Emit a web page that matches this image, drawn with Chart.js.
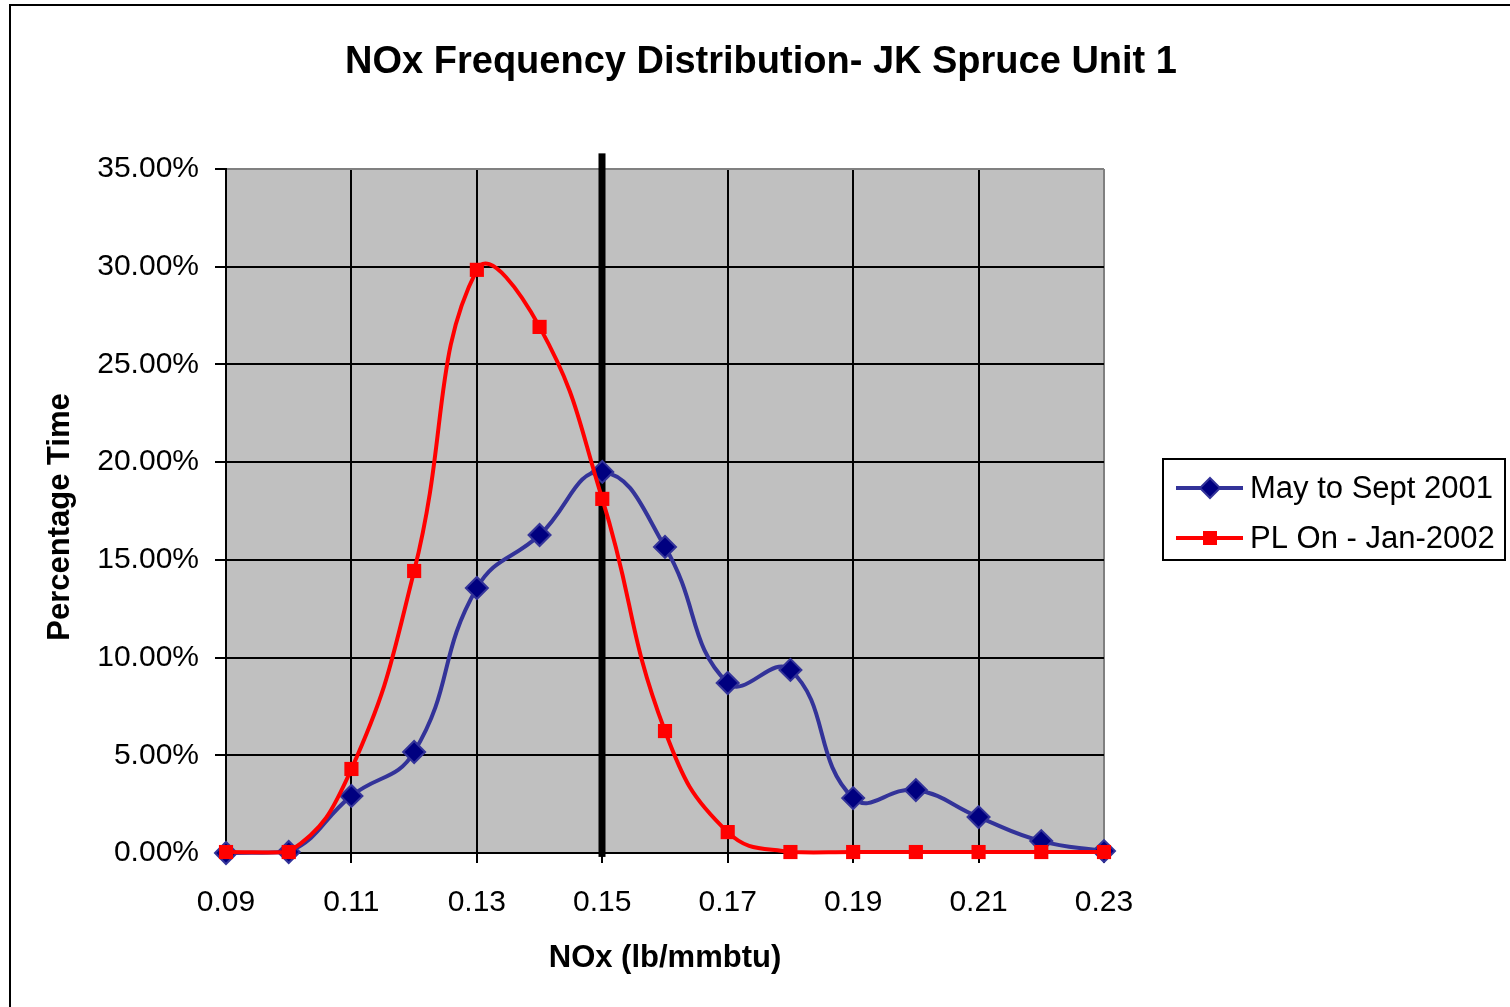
<!DOCTYPE html>
<html>
<head>
<meta charset="utf-8">
<script src="https://cdn.jsdelivr.net/npm/chart.js@4/dist/chart.umd.min.js"></script>
<style>
  html, body { margin: 0; padding: 0; background: #ffffff; }
  #wrap { position: relative; width: 1510px; height: 1007px; }
</style>
</head>
<body>
<div id="wrap"><canvas id="c" width="1510" height="1007"></canvas></div>
<script>
// ---- data ----
const chartTitle = 'NOx Frequency Distribution- JK Spruce Unit 1';
const xAxisTitle = 'NOx (lb/mmbtu)';
const yAxisTitle = 'Percentage Time';
const noxValues = [0.09, 0.10, 0.11, 0.12, 0.13, 0.14, 0.15, 0.16, 0.17, 0.18, 0.19, 0.20, 0.21, 0.22, 0.23];
const seriesNames = ['May to Sept 2001', 'PL On - Jan-2002'];
const maySept2001 = [0.0, 0.05, 2.92, 5.17, 13.56, 16.27, 19.5, 15.66, 8.7, 9.37, 2.81, 3.22, 1.84, 0.61, 0.1];
const plOnJan2002 = [0.05, 0.05, 4.3, 14.43, 29.84, 26.92, 18.12, 6.24, 1.07, 0.05, 0.05, 0.05, 0.05, 0.05, 0.05];
const xTickValues = [0.09, 0.11, 0.13, 0.15, 0.17, 0.19, 0.21, 0.23];
const yTickValues = [0, 5, 10, 15, 20, 25, 30, 35];
const refLineX = 0.15;
const refLineTop = 35.8;
const refLineBottom = -0.2;

const FONT = 'Arial, "Liberation Sans", Helvetica, sans-serif';
const blueLine = '#333399';
const blueFill = '#000080';
const red = '#FF0000';

const toPoints = arr => arr.map((v, i) => ({ x: noxValues[i], y: v }));

const decorPlugin = {
  id: 'decor',
  beforeDraw(chart) {
    const { ctx, chartArea: a } = chart;
    ctx.save();
    ctx.fillStyle = '#ffffff';
    ctx.fillRect(0, 0, chart.width, chart.height);
    ctx.fillStyle = '#C0C0C0';
    ctx.fillRect(a.left, a.top, a.right - a.left, a.bottom - a.top);
    ctx.restore();
  },
  beforeDatasetsDraw(chart) {
    const { ctx } = chart;
    const xs = chart.scales.x, ys = chart.scales.y;
    const px = xs.getPixelForValue(refLineX);
    ctx.save();
    ctx.fillStyle = '#000000';
    const t = ys.getPixelForValue(refLineTop);
    const b = ys.getPixelForValue(refLineBottom);
    ctx.fillRect(Math.round(px) - 3.5, t, 7, b - t);
    ctx.restore();
  },
  afterDraw(chart) {
    const { ctx, chartArea: a } = chart;
    ctx.save();
    // outer chart border
    ctx.strokeStyle = '#000000';
    ctx.lineWidth = 2;
    ctx.strokeRect(10, 5, chart.width + 10, chart.height + 10);

    // title
    ctx.fillStyle = '#000000';
    ctx.textAlign = 'center';
    ctx.textBaseline = 'middle';
    ctx.font = 'bold 38px ' + FONT;
    ctx.fillText(chartTitle, 761, 63);

    // axis titles
    ctx.font = 'bold 31px ' + FONT;
    ctx.fillText(xAxisTitle, (a.left + a.right) / 2, 958);
    ctx.save();
    ctx.translate(60, (a.top + a.bottom) / 2 + 6);
    ctx.rotate(-Math.PI / 2);
    ctx.fillText(yAxisTitle, 0, 0);
    ctx.restore();

    // legend
    const lx = 1163, ly = 459, lw = 342, lh = 101;
    ctx.fillStyle = '#ffffff';
    ctx.fillRect(lx, ly, lw, lh);
    ctx.strokeStyle = '#000000';
    ctx.lineWidth = 2;
    ctx.strokeRect(lx, ly, lw, lh);
    const rows = [
      { name: seriesNames[0], color: blueLine, fill: blueFill, style: 'rectRot', y: 488 },
      { name: seriesNames[1], color: red, fill: red, style: 'rect', y: 538 }
    ];
    rows.forEach(r => {
      ctx.strokeStyle = r.color;
      ctx.lineWidth = 4;
      ctx.beginPath();
      ctx.moveTo(1176, r.y);
      ctx.lineTo(1243, r.y);
      ctx.stroke();
      ctx.fillStyle = r.fill;
      ctx.strokeStyle = r.color;
      ctx.lineWidth = 2;
      if (r.style === 'rectRot') {
        ctx.beginPath();
        ctx.moveTo(1210, r.y - 10);
        ctx.lineTo(1220, r.y);
        ctx.lineTo(1210, r.y + 10);
        ctx.lineTo(1200, r.y);
        ctx.closePath();
        ctx.fill();
        ctx.stroke();
      } else {
        ctx.fillRect(1203, r.y - 7, 14, 14);
      }
      ctx.fillStyle = '#000000';
      ctx.textAlign = 'left';
      ctx.textBaseline = 'middle';
      ctx.font = '31px ' + FONT;
      ctx.fillText(r.name, 1250, r.y + 1);
    });
    ctx.restore();
  }
};

new Chart(document.getElementById('c'), {
  type: 'line',
  data: {
    datasets: [
      {
        label: seriesNames[0],
        data: toPoints(maySept2001),
        borderColor: blueLine,
        backgroundColor: blueFill,
        borderWidth: 4,
        pointStyle: 'rectRot',
        pointRadius: 11,
        pointBorderWidth: 2,
        pointBorderColor: blueLine,
        pointBackgroundColor: blueFill,
        tension: 0.45,
        order: 1
      },
      {
        label: seriesNames[1],
        data: toPoints(plOnJan2002),
        borderColor: red,
        backgroundColor: red,
        borderWidth: 4,
        pointStyle: 'rect',
        pointRadius: 10,
        pointBorderWidth: 0,
        pointBackgroundColor: red,
        tension: 0.45,
        order: 0
      }
    ]
  },
  options: {
    responsive: false,
    animation: false,
    devicePixelRatio: 1,
    clip: false,
    layout: { padding: { left: 0, top: 169, right: 406, bottom: 0 } },
    plugins: {
      legend: { display: false },
      title: { display: false },
      tooltip: { enabled: false }
    },
    scales: {
      x: {
        type: 'linear',
        min: 0.09,
        max: 0.23,
        afterBuildTicks: s => { s.ticks = xTickValues.map(v => ({ value: v })); },
        afterFit: s => { s.height = 154; },
        grid: {
          color: c => (c.tick && c.tick.value === 0.23 ? '#808080' : '#000000'),
          tickColor: '#000000',
          lineWidth: 2,
          tickLength: 10
        },
        border: { color: '#000000', width: 2 },
        ticks: {
          color: '#000000',
          font: { family: FONT, size: 30 },
          padding: 22,
          maxRotation: 0,
          callback: v => Number(v).toFixed(2)
        }
      },
      y: {
        type: 'linear',
        min: 0,
        max: 35,
        afterBuildTicks: s => { s.ticks = yTickValues.map(v => ({ value: v })); },
        afterFit: s => { s.width = 226; },
        grid: {
          color: c => (c.tick && c.tick.value === 35 ? '#808080' : '#000000'),
          tickColor: '#000000',
          lineWidth: 2,
          tickLength: 11
        },
        border: { color: '#000000', width: 2 },
        ticks: {
          color: '#000000',
          font: { family: FONT, size: 30 },
          padding: 16,
          callback: v => Number(v).toFixed(2) + '%'
        }
      }
    }
  },
  plugins: [decorPlugin]
});
</script>
</body>
</html>
